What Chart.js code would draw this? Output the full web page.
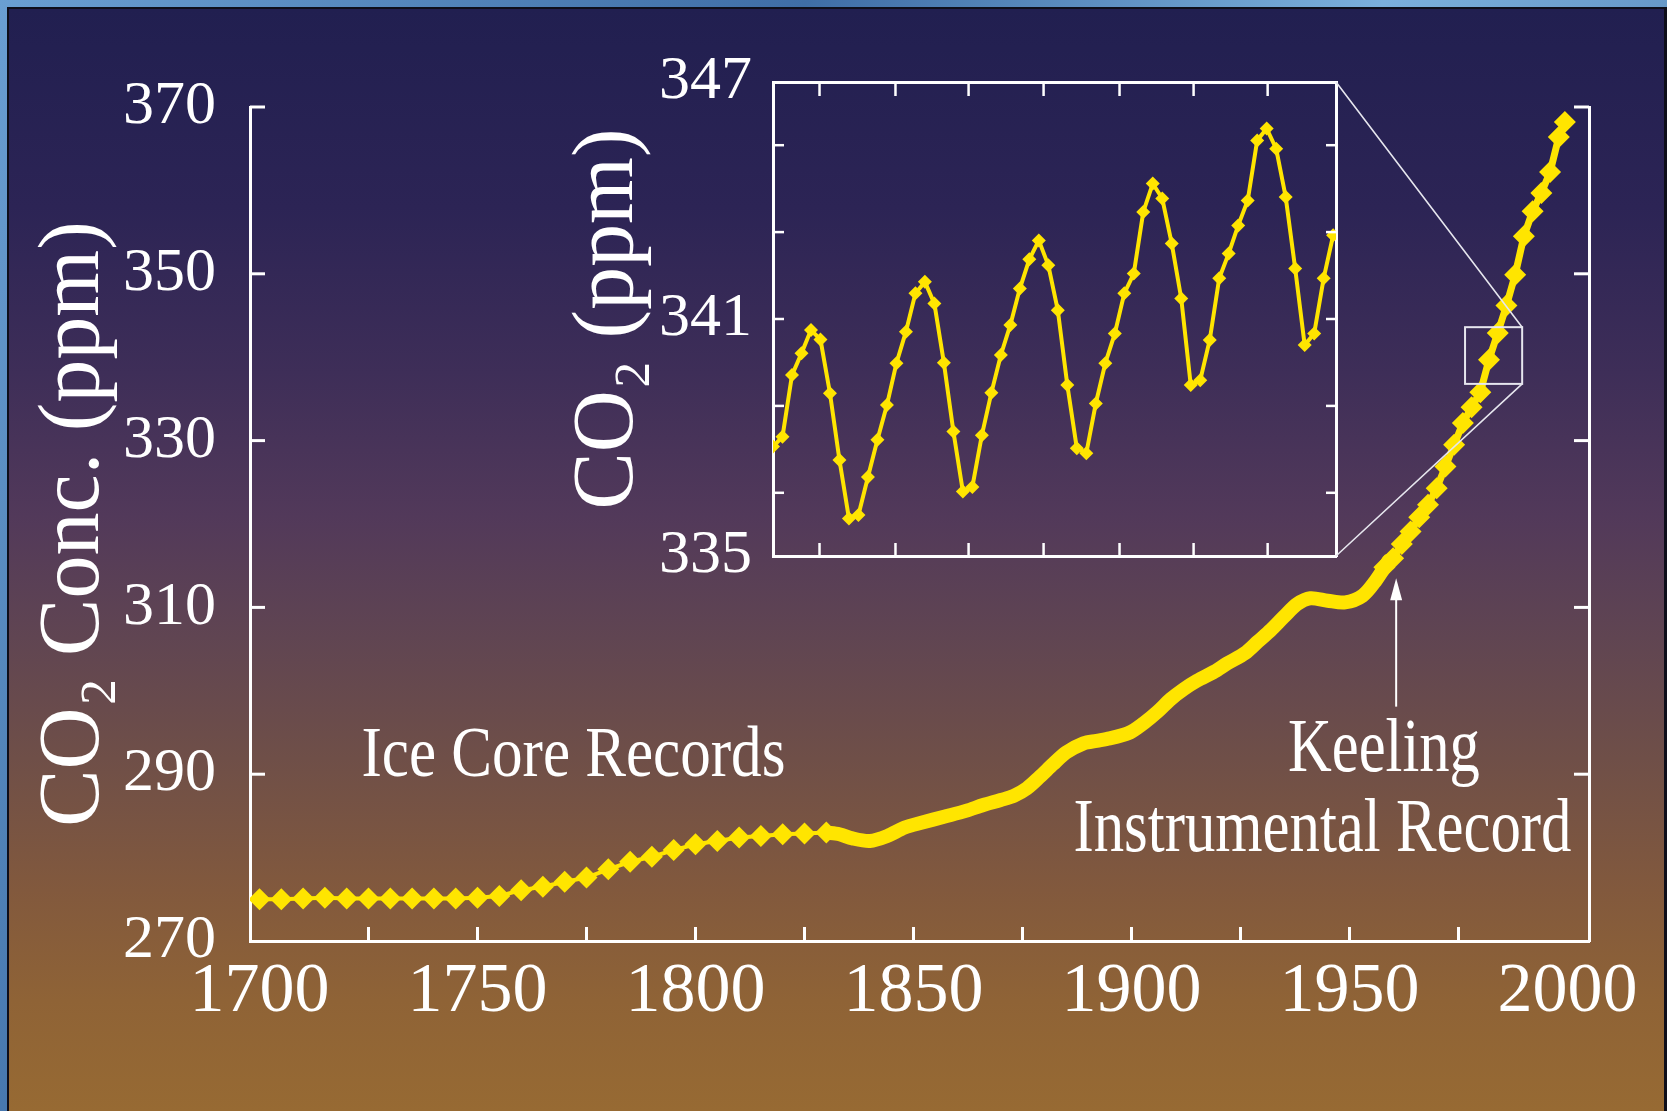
<!DOCTYPE html>
<html>
<head>
<meta charset="utf-8">
<script src="https://cdn.jsdelivr.net/npm/chart.js@4.4.1/dist/chart.umd.min.js"></script>
<style>
html, body { margin:0; padding:0; width:1667px; height:1111px; overflow:hidden;
  background: linear-gradient(120deg, #6a9fd2 0%, #3f6ea6 35%, #7bb0dc 60%, #3a669c 100%); }
#panel { position:absolute; left:7px; top:7px; width:1660px; height:1104px; box-sizing:border-box;
  border-left:2px solid #0e0e1a; border-top:2px solid #0e0e1a; border-right:3px solid #0e0e1a;
  background: linear-gradient(to bottom, #211f50 0%, #2c2455 18%, #3e2e58 33%, #52395a 46%, #604552 57%, #6f4f48 68%, #82593d 80%, #8f6336 90%, #976a33 100%); }
canvas { position:absolute; left:0; top:0; }
</style>
</head>
<body>
<div id="panel"></div>
<canvas id="main" width="1667" height="1111"></canvas>
<canvas id="inset" width="1667" height="1111"></canvas>
<script>
// ---- data ----
var iceYears = [1700,1705,1710,1715,1720,1725,1730,1735,1740,1745,1750,1755,1760,1765,1770,1775,1780,1785,1790,1795,1800,1805,1810,1815,1820,1825,1830];
var iceCo2   = [275.0,275.0,275.1,275.2,275.1,275.1,275.1,275.1,275.1,275.1,275.2,275.4,276.1,276.5,277.1,277.6,278.6,279.5,280.1,280.9,281.6,282.0,282.4,282.6,282.8,282.9,283.0];

var lawYears = [1830,1833,1836,1840,1844,1848,1852,1857,1862,1866,1870,1873,1876,1879,1882,1885,1889,1892,1895,1898,1900,1903,1906,1909,1912,1915,1919,1922,1926,1929,1932,1935,1938,1941,1945,1949,1953,1956,1959];
var lawCo2   = [283.0,282.8,282.3,282.0,282.6,283.6,284.2,284.9,285.6,286.3,286.9,287.4,288.3,289.7,291.2,292.6,293.7,294.0,294.3,294.7,295.1,296.2,297.5,299.0,300.2,301.2,302.3,303.3,304.5,305.9,307.3,308.9,310.4,311.1,310.8,310.6,311.4,313.2,315.6];

var keelingYears = [1958,1960,1962,1964,1966,1968,1970,1972,1974,1976,1978,1980,1982,1984,1986,1988,1990,1992,1994,1996,1998,1999.4];
var keelingCo2   = [314.8,315.9,317.6,319.1,320.8,322.3,324.3,326.9,329.5,332.1,334.0,335.8,339.7,342.9,346.2,349.9,354.5,357.5,359.7,362.2,366.4,368.2];

var xLabelYears = [1700,1750,1800,1850,1900,1950,2000];
var xTickYears  = [1725,1750,1775,1800,1825,1850,1875,1900,1925,1950,1975];
var yLabelValues = [270,290,310,330,350,370];
var yTickValues  = [290,310,330,350,370];

// inset: monthly values, month 0 = first month shown
var insetMonths = [0,1,2,3,4,5,6,7,8,9,10,11,12,13,14,15,16,17,18,19,20,21,22,23,24,25,26,27,28,29,30,31,32,33,34,35,36,37,38,39,40,41,42,43,44,45,46,47,48,49,50,51,52,53,54,55,56,57,58,59];
var insetCo2 = [337.77,338.02,339.58,340.13,340.72,340.48,339.12,337.43,335.95,336.04,337.00,337.94,
                338.82,339.88,340.68,341.65,341.94,341.39,339.89,338.15,336.63,336.75,338.06,339.13,
                340.09,340.85,341.77,342.51,342.99,342.36,341.22,339.33,337.73,337.60,338.86,339.88,
                340.63,341.65,342.15,343.71,344.43,344.05,342.91,341.52,339.33,339.45,340.47,342.03,
                342.66,343.37,344.00,345.52,345.82,345.31,344.09,342.28,340.34,340.63,342.03,343.12];
var insetYLabels = [335,341,347];
var insetYTicks  = [336.6,338.8,341,343.2,345.4];
var insetXTicks  = [4.9,12.9,20.6,28.5,36.5,44.3,52.1];

// zoom box on the main curve and text notes, in data units
var zoomBoxYears = [1976.5,1989.6];
var zoomBoxCo2   = [336.8,343.6];
var arrowYear = 1960.7, arrowFrom = 298.1, arrowTo = 313.5;

var YELLOW = '#ffe500';
var WHITE = '#ffffff';
var FONT = "'Liberation Serif','Times New Roman','DejaVu Serif',serif";

function pts(xs, ys) { return xs.map(function(x, i) { return { x: x, y: ys[i] }; }); }

function inwardTicks(specs) {
  return {
    id: 'inwardTicks',
    afterDraw: function(chart) {
      var ctx = chart.ctx, a = chart.chartArea;
      ctx.save();
      ctx.strokeStyle = WHITE;
      specs.forEach(function(s) {
        var sc = chart.scales[s.scale];
        ctx.lineWidth = s.width;
        s.values.forEach(function(v) {
          var p = sc.getPixelForValue(v);
          ctx.beginPath();
          if (s.side === 'left') { ctx.moveTo(a.left, p); ctx.lineTo(a.left + s.len, p); }
          if (s.side === 'right') { ctx.moveTo(a.right, p); ctx.lineTo(a.right - s.len, p); }
          if (s.side === 'bottom') { ctx.moveTo(p, a.bottom); ctx.lineTo(p, a.bottom - s.len); }
          if (s.side === 'top') { ctx.moveTo(p, a.top); ctx.lineTo(p, a.top + s.len); }
          ctx.stroke();
        });
      });
      ctx.restore();
    }
  };
}

var notes = {
  id: 'notes',
  afterDraw: function(chart) {
    var ctx = chart.ctx, sx = chart.scales.x, sy = chart.scales.y;
    ctx.save();
    ctx.fillStyle = WHITE;
    ctx.textAlign = 'center';
    ctx.textBaseline = 'alphabetic';
    ctx.font = '72px ' + FONT;
    ctx.fillText('Ice Core Records', sx.getPixelForValue(1772), sy.getPixelForValue(289.8), 424);
    ctx.font = '76px ' + FONT;
    ctx.fillText('Keeling', sx.getPixelForValue(1957.9), sy.getPixelForValue(290.4), 192);
    ctx.fillText('Instrumental Record', sx.getPixelForValue(1943.8), sy.getPixelForValue(280.8), 498);

    // arrow
    var ax = sx.getPixelForValue(arrowYear);
    var y0 = sy.getPixelForValue(arrowFrom), y1 = sy.getPixelForValue(arrowTo);
    ctx.strokeStyle = WHITE;
    ctx.lineWidth = 2;
    ctx.beginPath(); ctx.moveTo(ax, y0); ctx.lineTo(ax, y1 + 18); ctx.stroke();
    ctx.beginPath();
    ctx.moveTo(ax, y1); ctx.lineTo(ax - 6, y1 + 22); ctx.lineTo(ax + 6, y1 + 22); ctx.closePath();
    ctx.fill();

    // zoom box
    var bl = sx.getPixelForValue(zoomBoxYears[0]), br = sx.getPixelForValue(zoomBoxYears[1]);
    var bt = sy.getPixelForValue(zoomBoxCo2[1]), bb = sy.getPixelForValue(zoomBoxCo2[0]);
    ctx.strokeStyle = '#e6e6ee';
    ctx.lineWidth = 2;
    ctx.strokeRect(bl, bt, br - bl, bb - bt);
    ctx.restore();
  }
};

var mainChart = new Chart(document.getElementById('main'), {
  type: 'line',
  data: {
    datasets: [
      { label: 'Ice core', data: pts(iceYears, iceCo2), borderColor: YELLOW, backgroundColor: YELLOW,
        borderWidth: 4, pointStyle: 'rectRot', pointRadius: 11, pointBorderWidth: 0, tension: 0 },
      { label: 'Ice core (dense)', data: pts(lawYears, lawCo2), borderColor: YELLOW, backgroundColor: YELLOW,
        borderWidth: 14, borderJoinStyle: 'round', borderCapStyle: 'round', pointRadius: 0, tension: 0.3 },
      { label: 'Keeling', data: pts(keelingYears, keelingCo2), borderColor: YELLOW, backgroundColor: YELLOW,
        borderWidth: 7, borderJoinStyle: 'round', pointStyle: 'rectRot', pointRadius: 11, pointBorderWidth: 0, tension: 0 }
    ]
  },
  options: {
    responsive: false,
    animation: false,
    devicePixelRatio: 1,
    layout: { padding: { left: 0, top: 107, right: 0, bottom: 0 } },
    plugins: { legend: { display: false }, tooltip: { enabled: false } },
    scales: {
      x: {
        type: 'linear', position: 'bottom', min: 1697.82, max: 2004.93,
        afterBuildTicks: function(s) { s.ticks = xLabelYears.map(function(v) { return { value: v }; }); },
        afterFit: function(s) { s.height = 170; },
        grid: { display: false, drawTicks: false },
        border: { color: WHITE, width: 3 },
        ticks: { color: WHITE, font: { family: FONT, size: 70 }, padding: 10, maxRotation: 0, autoSkip: false,
                 callback: function(v) { return String(v); } }
      },
      y: {
        type: 'linear', position: 'left', min: 270, max: 370,
        afterBuildTicks: function(s) { s.ticks = yLabelValues.map(function(v) { return { value: v }; }); },
        afterFit: function(s) { s.width = 250; },
        grid: { display: false, drawTicks: false },
        border: { color: WHITE, width: 3 },
        ticks: { color: WHITE, font: { family: FONT, size: 62 }, padding: 34 },
        title: { display: true, text: 'CO\u2082 Conc. (ppm)', color: WHITE,
                 font: { family: FONT, size: 86 }, padding: { top: 24, bottom: 0 } }
      },
      y2: {
        type: 'linear', position: 'right', min: 270, max: 370,
        afterFit: function(s) { s.width = 78; },
        grid: { display: false, drawTicks: false },
        border: { color: WHITE, width: 3 },
        ticks: { display: false }
      }
    }
  },
  plugins: [
    inwardTicks([
      { scale: 'y', side: 'left', values: yTickValues, len: 15, width: 3 },
      { scale: 'y', side: 'right', values: yTickValues, len: 15, width: 3 },
      { scale: 'x', side: 'bottom', values: xTickYears, len: 14, width: 3 }
    ]),
    notes
  ]
});

var connectors = {
  id: 'connectors',
  afterDraw: function(chart) {
    var ctx = chart.ctx, a = chart.chartArea;
    var ms = mainChart.scales;
    var bx = ms.x.getPixelForValue(zoomBoxYears[1]);
    var bt = ms.y.getPixelForValue(zoomBoxCo2[1]), bb = ms.y.getPixelForValue(zoomBoxCo2[0]);
    ctx.save();
    ctx.strokeStyle = '#e6e6ee';
    ctx.lineWidth = 1.6;
    ctx.beginPath();
    ctx.moveTo(a.right, a.top); ctx.lineTo(bx, bt);
    ctx.moveTo(a.right, a.bottom); ctx.lineTo(bx, bb);
    ctx.stroke();
    ctx.restore();
  }
};

var insetChart = new Chart(document.getElementById('inset'), {
  type: 'line',
  data: {
    datasets: [
      { label: 'Monthly CO2', data: pts(insetMonths, insetCo2), borderColor: YELLOW, backgroundColor: YELLOW,
        borderWidth: 4, pointStyle: 'rectRot', pointRadius: 7, pointBorderWidth: 0, tension: 0 }
    ]
  },
  options: {
    responsive: false,
    animation: false,
    devicePixelRatio: 1,
    layout: { padding: { left: 540, top: 0, right: 0, bottom: 0 } },
    plugins: { legend: { display: false }, tooltip: { enabled: false } },
    scales: {
      x: {
        type: 'linear', position: 'bottom', min: 0, max: 59.3,
        afterFit: function(s) { s.height = 1111 - 556; },
        grid: { display: false, drawTicks: false },
        border: { color: WHITE, width: 3 },
        ticks: { display: false }
      },
      x2: {
        type: 'linear', position: 'top', min: 0, max: 59.3,
        afterFit: function(s) { s.height = 82; },
        grid: { display: false, drawTicks: false },
        border: { color: WHITE, width: 3 },
        ticks: { display: false }
      },
      y: {
        type: 'linear', position: 'left', min: 335, max: 347,
        afterBuildTicks: function(s) { s.ticks = insetYLabels.map(function(v) { return { value: v }; }); },
        afterFit: function(s) { s.width = 233; },
        grid: { display: false, drawTicks: false },
        border: { color: WHITE, width: 3 },
        ticks: { color: WHITE, font: { family: FONT, size: 62 }, padding: 21 },
        title: { display: true, text: 'CO\u2082 (ppm)', color: WHITE,
                 font: { family: FONT, size: 86 }, padding: { top: 18, bottom: 0 } }
      },
      y2: {
        type: 'linear', position: 'right', min: 335, max: 347,
        afterFit: function(s) { s.width = 1667 - 1336; },
        grid: { display: false, drawTicks: false },
        border: { color: WHITE, width: 3 },
        ticks: { display: false }
      }
    }
  },
  plugins: [
    inwardTicks([
      { scale: 'y', side: 'left', values: insetYTicks, len: 11, width: 2.5 },
      { scale: 'y', side: 'right', values: insetYTicks, len: 10, width: 2.5 },
      { scale: 'x', side: 'bottom', values: insetXTicks, len: 13, width: 2.5 },
      { scale: 'x', side: 'top', values: insetXTicks, len: 14, width: 2.5 }
    ]),
    connectors
  ]
});
</script>
</body>
</html>
